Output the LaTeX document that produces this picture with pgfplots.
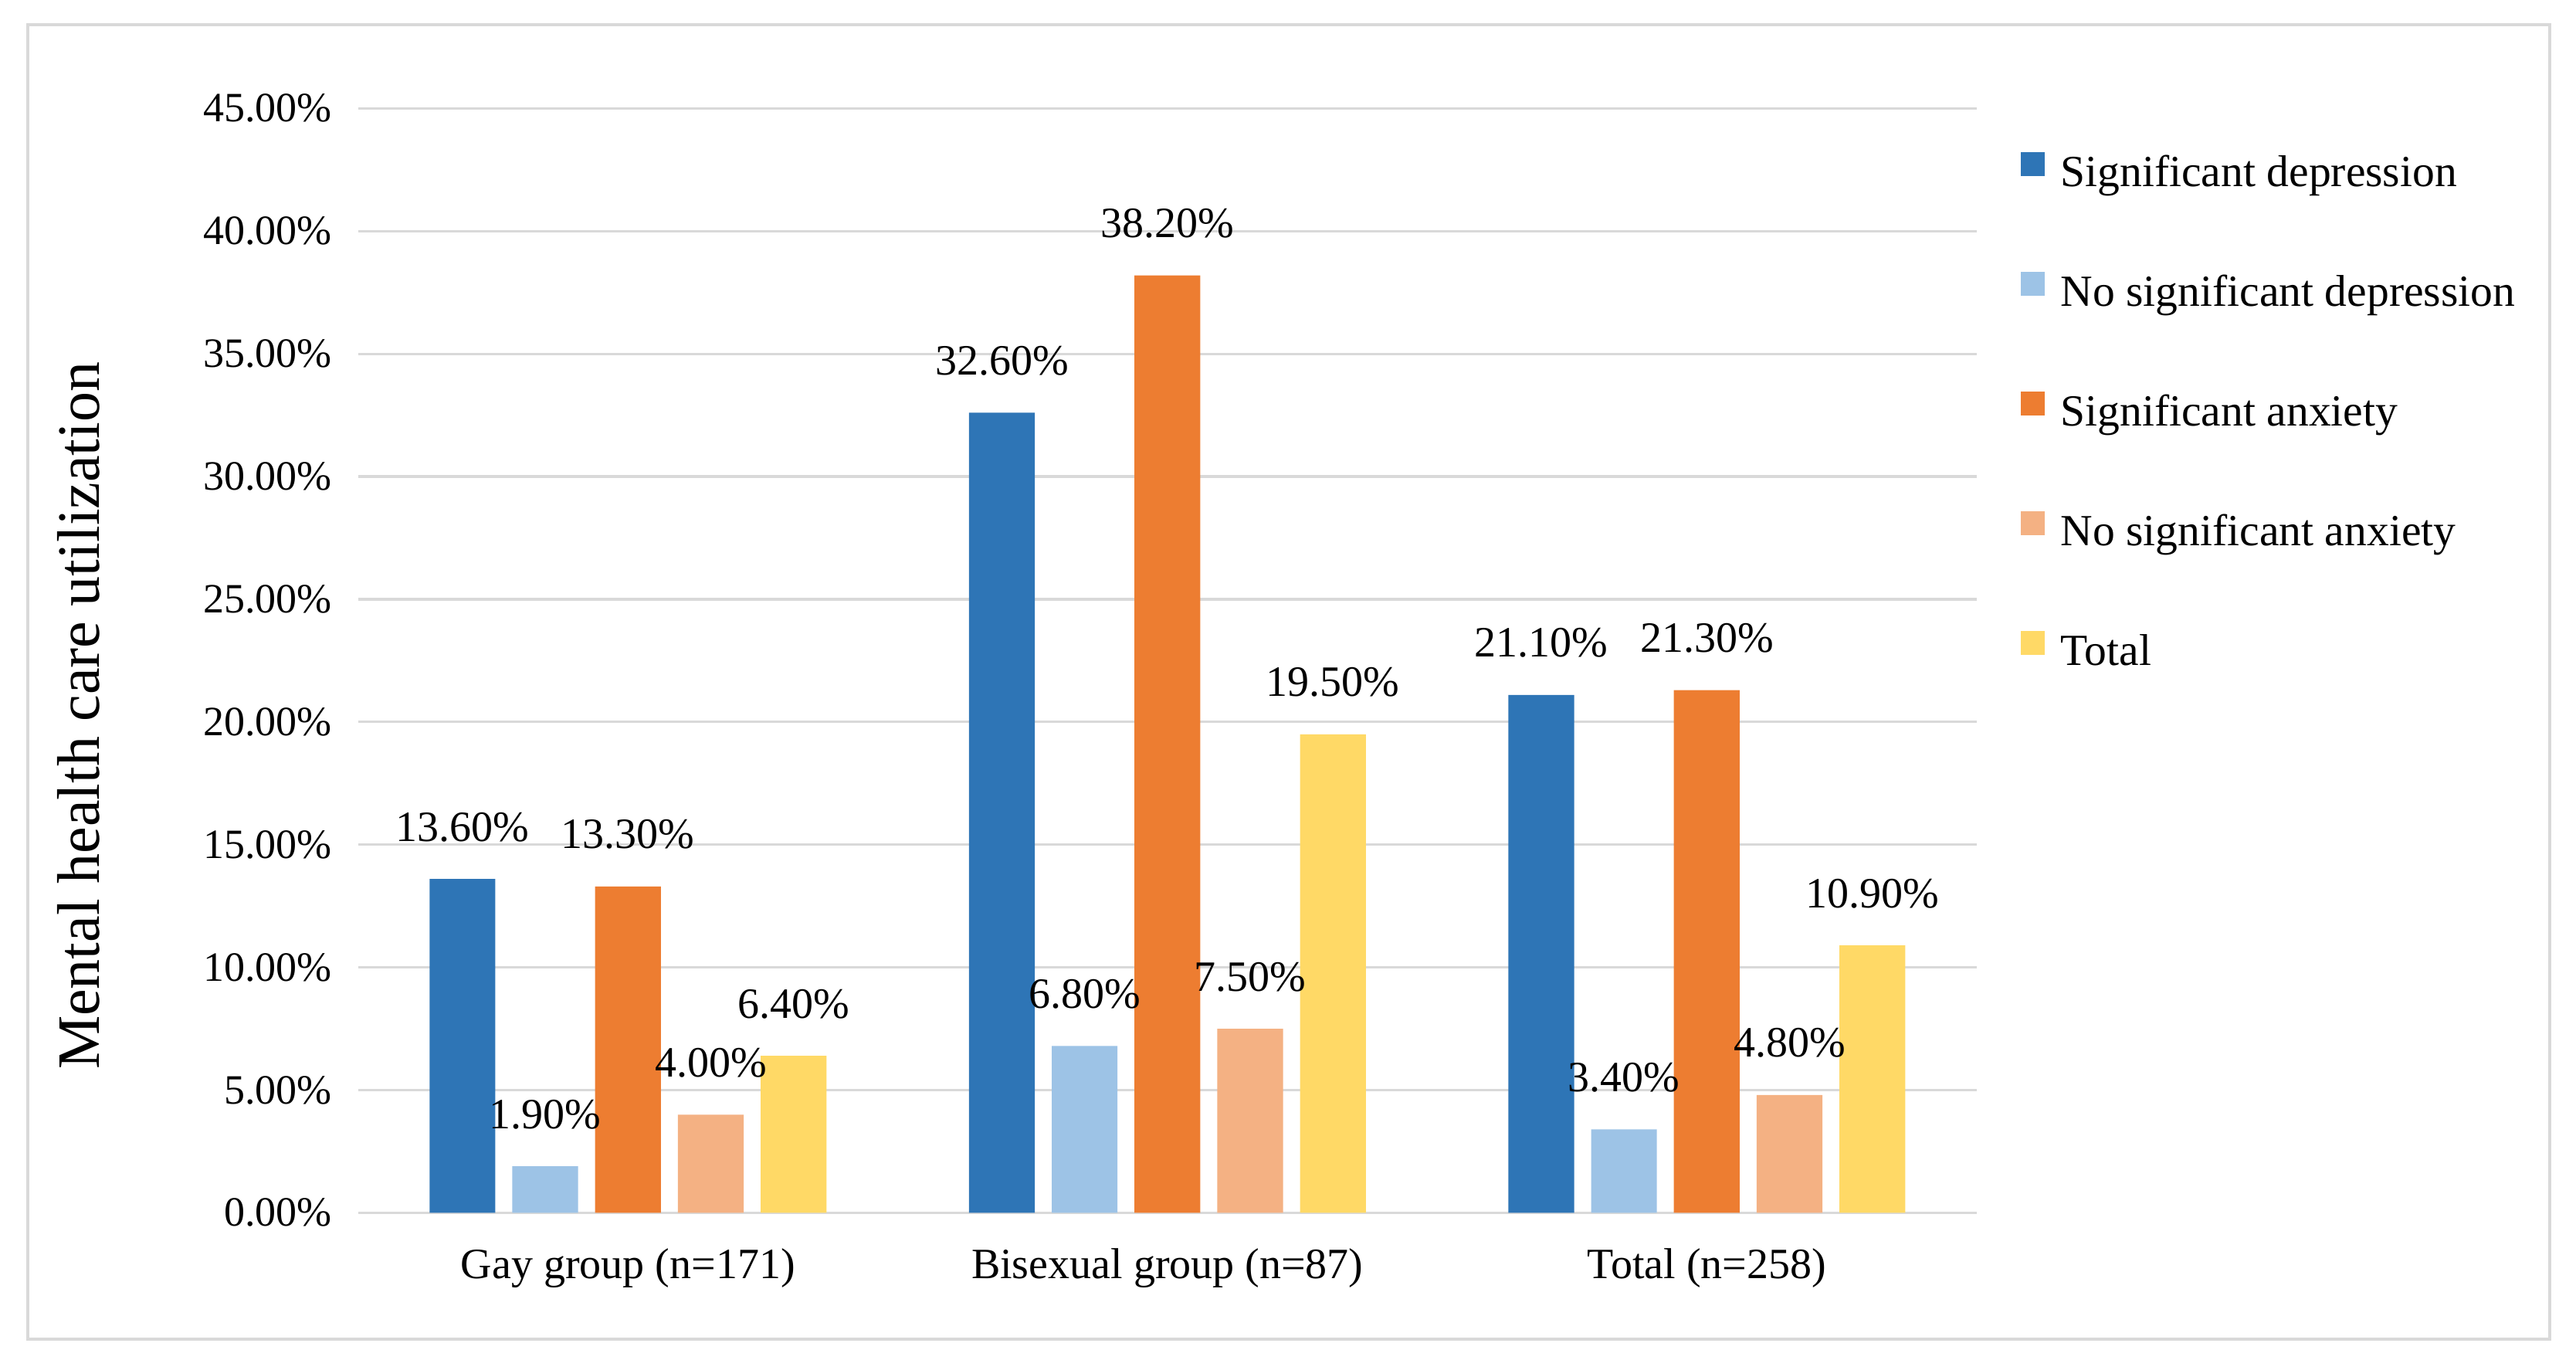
\documentclass[border=0pt]{standalone}
\usepackage{fontspec}
\setmainfont{Liberation Serif}
\usepackage{pgfplots}
\pgfplotsset{compat=1.18}
\definecolor{sdep}{HTML}{2E75B6}
\definecolor{nsdep}{HTML}{9DC3E6}
\definecolor{sanx}{HTML}{ED7D31}
\definecolor{nsanx}{HTML}{F4B183}
\definecolor{tot}{HTML}{FFD966}
\definecolor{gridc}{HTML}{D9D9D9}
\begin{document}
\begin{tikzpicture}
\begin{axis}[
  width=523.9pt, height=357.5pt, scale only axis,
  xmin=-0.5, xmax=2.5, ymin=0, ymax=45,
  ybar=5.5pt, bar width=21.3pt,
  axis line style={draw=none},
  major tick length=0pt,
  ymajorgrids, grid style={color=gridc, line width=0.8pt},
  ytick={0,5,...,45},
  yticklabel={\pgfmathprintnumber[fixed,fixed zerofill,precision=2]{\tick}\%},
  /pgf/number format/assume math mode=true,
  xtick={0,1,2},
  xticklabels={Gay group (n=171), Bisexual group (n=87), Total (n=258)},
  ticklabel style={font=\fontsize{14}{16}\selectfont},
  yticklabel style={xshift=-5pt, font=\fontsize{13.5}{16}\selectfont},
  xticklabel style={yshift=-8pt},
  ylabel={Mental health care utilization},
  every axis y label/.style={at={(axis description cs:-0.1727,0.45)}, rotate=90, anchor=center, font=\fontsize{19.5}{22}\selectfont},
  nodes near coords={\pgfmathprintnumber[fixed,fixed zerofill,precision=2]{\pgfplotspointmeta}\%},
  every node near coord/.append style={font=\fontsize{14}{16}\selectfont, yshift=8.5pt, black},
  legend cell align=left,
  legend image code/.code={\fill[#1, draw=none] (0pt,0pt) rectangle (7.8pt,7.8pt);},
  legend style={at={(rel axis cs:1.0214,0.9665)}, anchor=north west, draw=none, fill=none,
    font=\fontsize{14.4}{16}\selectfont,
    nodes={inner sep=0pt, text height=10pt, text depth=3.5pt},
    row sep=24.2pt, column sep=5pt},
  clip=false,
]
\addplot[fill=sdep, draw=none] coordinates {(0,13.6) (1,32.6) (2,21.1)};
\addplot[fill=nsdep, draw=none] coordinates {(0,1.9) (1,6.8) (2,3.4)};
\addplot[fill=sanx, draw=none] coordinates {(0,13.3) (1,38.2) (2,21.3)};
\addplot[fill=nsanx, draw=none] coordinates {(0,4.0) (1,7.5) (2,4.8)};
\addplot[fill=tot, draw=none] coordinates {(0,6.4) (1,19.5) (2,10.9)};
\legend{Significant depression, No significant depression, Significant anxiety, No significant anxiety, Total}
\end{axis}
\draw[gridc, line width=1pt] (-107pt,-40.9pt) rectangle (709.5pt,384.6pt);
\path (-116pt,-47.4pt) rectangle (718pt,392.6pt);
\end{tikzpicture}
\end{document}
